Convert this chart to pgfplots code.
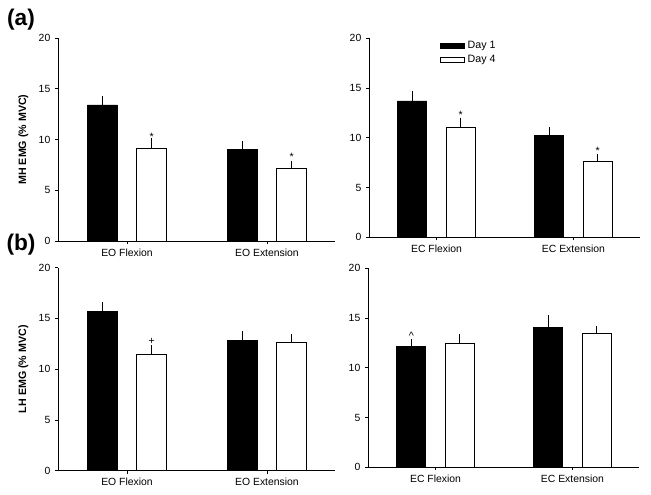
\documentclass[border=0pt]{standalone}
\usepackage{fontspec}
\setmainfont{Liberation Sans}
\usepackage{pgfplots}
\pgfplotsset{compat=1.18}
\pgfplotsset{
  emgbase/.style={
    scale only axis,
    ybar,
    ymin=0, ymax=20,
    ytick={0,5,10,15,20},
    xmin=-0.493, xmax=1.486,
    xtick={0,1},
    bar width=0.213,
    axis x line*=bottom,
    axis y line*=left,
    tick align=outside,
    major tick length=2.25pt,
    axis line style={line width=0.6pt},
    tick style={line width=0.6pt, black},
    /pgf/number format/assume math mode=true,
    tick label style={font=\fontsize{7.8}{8}\selectfont},
    every axis plot/.append style={draw=black, line width=0.6pt},
    error bars/y dir=plus,
    error bars/y explicit,
    error bars/error bar style={line width=1pt, black},
    error bars/error mark options={line width=1pt, mark size=2.4pt, black},
    clip=false,
  },
  leftcol/.style={emgbase, width=207.75pt, height=152.25pt},
  rightcol/.style={emgbase, width=203.25pt, height=149.25pt},
  ylab/.style={ylabel style={at={(axis description cs:-0.125,0.5)}, anchor=center, font=\bfseries\fontsize{8}{9}\selectfont}},
}
\begin{document}
\begin{tikzpicture}
\path[use as bounding box] (0,0) rectangle (488.25pt,-370.5pt);
\node[font=\bfseries\fontsize{17}{17}\selectfont] at (15.75pt,-15pt) {(a)};
\node[font=\bfseries\fontsize{17}{17}\selectfont] at (15.75pt,-183.75pt) {(b)};

% (a) left: MH EMG, EO
\begin{axis}[leftcol, ylab, at={(43.5pt,-180.75pt)}, anchor=south west,
  xticklabels={EO Flexion, EO Extension},
  ylabel={MH EMG (\% MVC)}]
\addplot[fill=black, bar shift=-0.177] coordinates {(0,13.4) +- (0,0.6) (1,9.03) +- (0,0.47)};
\addplot[fill=white, bar shift=0.177] coordinates {(0,9.13) +- (0,0.67) (1,7.16) +- (0,0.43)};
\node[font=\fontsize{8}{8}\selectfont] at (axis cs:0.177,10.25) {*};
\node[font=\fontsize{8}{8}\selectfont] at (axis cs:1.177,8.25) {*};
\end{axis}

% (a) right: MH EMG, EC
\begin{axis}[rightcol, at={(276.75pt,-177.975pt)}, anchor=south west,
  xticklabels={EC Flexion, EC Extension},
  legend style={at={(axis description cs:0.262,1)}, anchor=north west, draw=none, fill=none,
    inner sep=0pt, row sep=-0.5pt, font=\fontsize{8}{9}\selectfont,
    /tikz/every even column/.append style={column sep=3pt}},
  legend cell align=left,
  legend image code/.code={\draw[#1, draw=black, line width=0.6pt] (0pt,-1.9pt) rectangle (18pt,1.9pt);}]
\addplot[fill=black, bar shift=-0.177] coordinates {(0,13.7) +- (0,0.7) (1,10.2) +- (0,0.55)};
\addlegendentry{Day 1}
\addplot[fill=white, bar shift=0.177] coordinates {(0,11.05) +- (0,0.65) (1,7.6) +- (0,0.44)};
\addlegendentry{Day 4}
\node[font=\fontsize{8}{8}\selectfont] at (axis cs:0.177,12.3) {*};
\node[font=\fontsize{8}{8}\selectfont] at (axis cs:1.177,8.65) {*};
\end{axis}

% (b) left: LH EMG, EO
\begin{axis}[leftcol, ylab, at={(43.5pt,-353.025pt)}, anchor=south west,
  xticklabels={EO Flexion, EO Extension},
  ylabel={LH EMG (\% MVC)}]
\addplot[fill=black, bar shift=-0.177] coordinates {(0,15.7) +- (0,0.6) (1,12.8) +- (0,0.67)};
\addplot[fill=white, bar shift=0.177] coordinates {(0,11.43) +- (0,0.63) (1,12.68) +- (0,0.49)};
\node[font=\fontsize{8}{8}\selectfont] at (axis cs:0.177,12.7) {+};
\end{axis}

% (b) right: LH EMG, EC
\begin{axis}[rightcol, at={(276pt,-350.475pt)}, anchor=south west,
  xticklabels={EC Flexion, EC Extension}]
\addplot[fill=black, bar shift=-0.177] coordinates {(0,12.12) +- (0,0.44) (1,14.1) +- (0,0.87)};
\addplot[fill=white, bar shift=0.177] coordinates {(0,12.42) +- (0,0.68) (1,13.47) +- (0,0.43)};
\node[font=\fontsize{8}{8}\selectfont] at (axis cs:-0.177,13.2) {\^{}};
\end{axis}
\end{tikzpicture}
\end{document}
